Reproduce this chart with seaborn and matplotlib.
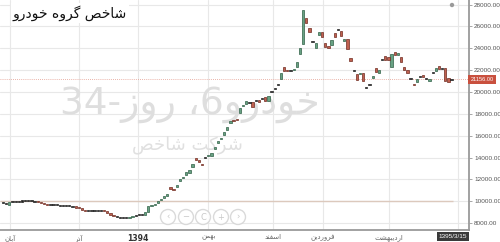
import re
import numpy as np
import pandas as pd
import matplotlib
matplotlib.use("Agg")
import matplotlib.pyplot as plt
from matplotlib.patches import Circle
from matplotlib.transforms import IdentityTransform, blended_transform_factory
import seaborn as sns

# ---------------- data ----------------
TITLE = "شاخص گروه خودرو"
WATERMARK = "خودرو6، روز-34"
SUBMARK = "شرکت شاخص"
month_labels = ["آبان", "آذر", "1394", "بهمن", "اسفند", "فروردین", "اردیبهشت"]
month_pos = [2.2, 24, 42.7, 65, 85.4, 101.3, 122.2]
last_date = "1395/3/15"
y_ticks = [8000, 10000, 12000, 14000, 16000, 18000, 20000, 22000, 24000, 26000, 28000]
base_level = 10000

opens = [9830, 9790, 9620, 9880, 9900, 9950, 9970, 9990, 10010, 10040, 10010, 9960, 9880, 9790,
         9700, 9620, 9640, 9650, 9620, 9600, 9580, 9560, 9520, 9480, 9420, 9350, 9200, 9100,
         9060, 9070, 9110, 9150, 9140, 9080, 8920, 8740, 8600, 8550, 8500, 8440, 8480, 8560,
         8640, 8690, 8740, 8760, 9050,
         9560, 9650, 9830, 10110, 10290, 10470, 11340, 11160, 11300, 11850, 12120, 12440, 12580,
         13160, 13980, 13770, 13360, 13950, 14140, 14140, 14780, 15300, 15700, 16060, 16520,
         17160, 17480, 17570, 18080, 18720, 18900, 18990, 19040, 19170, 19310, 19390, 19540,
         19220, 20000, 20230, 20600, 21190, 22290, 22010, 21920, 21970, 22290, 23480, 24370,
         26780, 25860, 24600, 24000, 25220, 25520, 24460, 24240, 24300, 25430, 25710, 25590,
         24670, 24830, 23090, 22000, 21620, 21650, 21710, 20420, 20650, 21260, 22230, 21770,
         22990, 23300, 23230, 22320, 23690, 23390, 23250, 22290, 22020, 21200, 20730, 20960,
         21350, 21600, 21170, 21010, 21730, 21950, 22410, 22160, 22230, 21240, 21140]
closes = [9790, 9740, 9880, 9900, 9950, 9970, 9990, 10010, 10040, 10010, 9960, 9880, 9790, 9700,
          9620, 9640, 9650, 9620, 9600, 9580, 9560, 9520, 9480, 9420, 9350, 9200, 9100, 9060,
          9070, 9110, 9150, 9140, 9080, 8920, 8740, 8600, 8550, 8500, 8460, 8480, 8560, 8640,
          8690, 8740, 8780, 9010, 9550,
          9650, 9740, 10060, 10200, 10430, 10660, 11160, 10980, 11480, 12030, 12210, 12670, 12810,
          13400, 13770, 13560, 13270, 14000, 14230, 14380, 14960, 15540, 15830, 16360, 16820,
          17340, 17300, 17430, 18530, 18850, 19220, 19040, 18670, 19220, 19080, 19410, 19220,
          19630, 20050, 20280, 20640, 21740, 21920, 21930, 21880, 22150, 22790, 23990, 27510,
          26320, 25500, 24560, 24520, 25520, 25010, 24090, 24000, 24760, 25010, 25690, 25160,
          24860, 23910, 22870, 21960, 21100, 21770, 21040, 20390, 20630, 21470, 21860, 22020,
          22970, 22930, 22890, 23480, 23390, 23600, 22780, 21970, 21710, 21180, 20640, 21160,
          21330, 21400, 21150, 21160, 21710, 22240, 22110, 22140, 21040, 20960, 21156]

# ---------------- minimal Persian shaping ----------------
FORMS = {
    'ا': ('\uFE8D', '\uFE8E', None, None), 'آ': ('\uFE81', '\uFE82', None, None),
    'د': ('\uFEA9', '\uFEAA', None, None), 'ذ': ('\uFEAB', '\uFEAC', None, None),
    'ر': ('\uFEAD', '\uFEAE', None, None), 'ز': ('\uFEAF', '\uFEB0', None, None),
    'و': ('\uFEED', '\uFEEE', None, None),
    'ب': ('\uFE8F', '\uFE90', '\uFE91', '\uFE92'), 'ت': ('\uFE95', '\uFE96', '\uFE97', '\uFE98'),
    'خ': ('\uFEA5', '\uFEA6', '\uFEA7', '\uFEA8'), 'س': ('\uFEB1', '\uFEB2', '\uFEB3', '\uFEB4'),
    'ش': ('\uFEB5', '\uFEB6', '\uFEB7', '\uFEB8'), 'ص': ('\uFEB9', '\uFEBA', '\uFEBB', '\uFEBC'),
    'ف': ('\uFED1', '\uFED2', '\uFED3', '\uFED4'), 'م': ('\uFEE1', '\uFEE2', '\uFEE3', '\uFEE4'),
    'ن': ('\uFEE5', '\uFEE6', '\uFEE7', '\uFEE8'), 'ه': ('\uFEE9', '\uFEEA', '\uFEEB', '\uFEEC'),
    'ک': ('\uFB8E', '\uFB8F', '\uFB90', '\uFB91'), 'گ': ('\uFB92', '\uFB93', '\uFB94', '\uFB95'),
    'ی': ('\uFBFC', '\uFBFD', '\uFBFE', '\uFBFF'),
}


def fa(text):
    out = []
    n = len(text)
    for i, c in enumerate(text):
        if c not in FORMS:
            out.append(c)
            continue
        iso, fin, ini, med = FORMS[c]
        prev = text[i - 1] if i > 0 else ''
        nxt = text[i + 1] if i < n - 1 else ''
        jp = prev in FORMS and FORMS[prev][2] is not None
        jn = ini is not None and nxt in FORMS
        if jp and jn:
            out.append(med)
        elif jp:
            out.append(fin)
        elif jn:
            out.append(ini)
        else:
            out.append(iso)
    tokens = re.findall(r'\d+|\D', ''.join(out))
    return ''.join(reversed(tokens))


# ---------------- plotting ----------------
sns.set_theme(style="white")
plt.rcParams['font.family'] = ['DejaVu Sans', 'Noto Sans']
NUMFONT = ['Liberation Sans', 'DejaVu Sans']

df = pd.DataFrame({"open": opens, "close": closes})
df["idx"] = np.arange(len(df))
df["bottom"] = df[["open", "close"]].min(axis=1)
df["height"] = (df["close"] - df["open"]).abs().clip(lower=95)
df["kind"] = np.where((df["close"] - df["open"]).abs() < 60, "doji",
                      np.where(df["close"] > df["open"], "up", "down"))

fig = plt.figure(figsize=(5.0, 2.42), dpi=100)
ax = fig.add_axes([0, 1 - 230 / 242, 469 / 500, 230 / 242])
ax.set_facecolor("white")

styles = {"up": ("#69a284", "#2f5f45"), "down": ("#c0604f", "#6e2a20"), "doji": ("#222222", "#222222")}
for kind, (fc, ec) in styles.items():
    d = df[df["kind"] == kind]
    ax.bar(d["idx"], d["height"], bottom=d["bottom"], width=0.72, color=fc,
           edgecolor=ec, linewidth=0.5, zorder=3)

ax.set_xlim(-0.95, 147.5)
ax.set_ylim(7360, 28427)

# grid
ax.set_yticks(y_ticks)
ax.set_xticks(month_pos)
ax.grid(True, color="#e8e8e8", linewidth=0.8, zorder=0)
ax.axvline(144, color="#e8e8e8", linewidth=0.8, zorder=0)

# reference lines
ax.hlines(base_level, -0.95, len(df) - 0.5, color="#dcc9bd", linewidth=1.0, zorder=1)
last = closes[-1]
ax.axhline(last, color="#e39a8c", linewidth=0.6, linestyle=(0, (1, 1.5)), zorder=2)

# axes styling
for s in ["left", "top"]:
    ax.spines[s].set_visible(False)
for s in ["right", "bottom"]:
    ax.spines[s].set_visible(True)
    ax.spines[s].set_color("#9a9a9a")
    ax.spines[s].set_linewidth(1.3)
ax.yaxis.tick_right()
ax.set_yticklabels([f"{v}.00" for v in y_ticks], fontsize=4.6, color="#555555", family=NUMFONT)
ax.tick_params(axis="y", length=2.5, width=0.6, color="#999999", pad=1.2, right=True)
ax.set_xticklabels([fa(m) for m in month_labels], fontsize=5.0, color="#666666")
ax.tick_params(axis="x", length=0, pad=3)
for lab in ax.get_xticklabels():
    if lab.get_text() == "1394":
        lab.set_fontweight("bold")
        lab.set_color("#333333")
        lab.set_fontsize(5.6)

# price and date boxes
tr = blended_transform_factory(ax.transAxes, ax.transData)
ax.text(1.003, last, f"{last:.2f}", transform=tr, fontsize=4.1, color="white", family=NUMFONT,
        va="center", ha="left", clip_on=False, zorder=6,
        bbox=dict(boxstyle="square,pad=0.35", fc="#c9503e", ec="none"))
trx = blended_transform_factory(ax.transData, ax.transAxes)
ax.text(len(df) - 0.6, -0.028, last_date, transform=trx, fontsize=4.6, color="white", family=NUMFONT,
        va="center", ha="center", clip_on=False, zorder=6,
        bbox=dict(boxstyle="square,pad=0.3", fc="#3a3a3a", ec="none"))

# watermark
ax.text(0.405, 0.545, fa(WATERMARK), transform=ax.transAxes, fontsize=27, color="#dedede",
        ha="center", va="center", zorder=1)
ax.text(0.40, 0.37, fa(SUBMARK), transform=ax.transAxes, fontsize=13, color="#e0e0e0",
        ha="center", va="center", zorder=1)

# title
fig.text(13 / 500, 1 - 13 / 242, fa(TITLE), fontsize=10, color="#111111", ha="left", va="center",
         zorder=10, bbox=dict(boxstyle="square,pad=0.15", fc="white", ec="none"))

# chart navigation buttons (overlay)
for cx, sym in zip([168, 186, 203, 221, 238], ["‹", "−", "C", "+", "›"]):
    fig.add_artist(Circle((cx, 242 - 217), 7.5, transform=IdentityTransform(),
                          facecolor="white", edgecolor="#d6d6d6", linewidth=1.0, alpha=0.9, zorder=8))
    fig.text(cx / 500, 25 / 242, sym, fontsize=6, color="#c8c8c8", ha="center", va="center", zorder=9)
fig.add_artist(Circle((452, 242 - 5), 2.2, transform=IdentityTransform(),
                      facecolor="#9a9a9a", edgecolor="none", zorder=8))

fig.savefig("out.png", dpi=100)
